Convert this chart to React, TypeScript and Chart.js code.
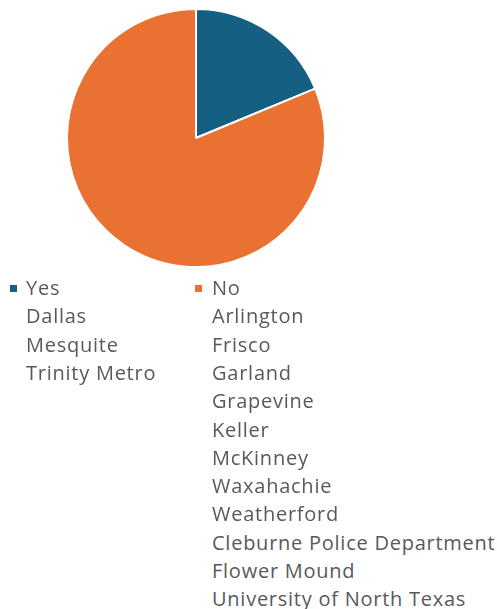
import React, { useEffect, useRef } from "react";
import { Chart, registerables } from "chart.js";
Chart.register(...registerables);

const categories = ["Yes", "No"];
const values = [3, 13];
const colors = ["#156082", "#E97132"];
const yesNames = ["Dallas", "Mesquite", "Trinity Metro"];
const noNames = [
  "Arlington",
  "Frisco",
  "Garland",
  "Grapevine",
  "Keller",
  "McKinney",
  "Waxahachie",
  "Weatherford",
  "Cleburne Police Department",
  "Flower Mound",
  "University of North Texas",
];

const FONT = "'Open Sans', sans-serif";
const ROW = 28.3;
const TOP = 274;

export default function App() {
  const ref = useRef<HTMLCanvasElement>(null);
  useEffect(() => {
    document.body.style.margin = "0";
    const chart = new Chart(ref.current!, {
      type: "pie",
      data: {
        labels: categories,
        datasets: [
          {
            data: values,
            backgroundColor: colors,
            borderColor: "#ffffff",
            borderWidth: 2,
            hoverOffset: 0,
          },
        ],
      },
      options: {
        responsive: false,
        animation: false,
        layout: { padding: 8 },
        plugins: { legend: { display: false }, tooltip: { enabled: false } },
      },
    });
    return () => chart.destroy();
  }, []);

  const col = (label: string, color: string, names: string[], mx: number, tx: number) => (
    <>
      <div style={{ position: "absolute", left: mx, top: TOP + ROW / 2 - 3.5, width: 7, height: 7, background: color }} />
      {[label, ...names].map((n, i) => (
        <div
          key={n}
          style={{
            position: "absolute",
            left: tx,
            top: TOP + i * ROW,
            height: ROW,
            lineHeight: ROW + "px",
            fontSize: 20,
            letterSpacing: "0.75px",
            fontFamily: FONT,
            color: "#595959",
            whiteSpace: "nowrap",
          }}
        >
          {n}
        </div>
      ))}
    </>
  );

  return (
    <div style={{ position: "relative", width: 497, height: 609, background: "#fff", overflow: "hidden" }}>
      <canvas ref={ref} width={392} height={276} style={{ position: "absolute", left: 0, top: 0 }} />
      {col(categories[0], colors[0], yesNames, 10, 26)}
      {col(categories[1], colors[1], noNames, 195, 212)}
    </div>
  );
}
